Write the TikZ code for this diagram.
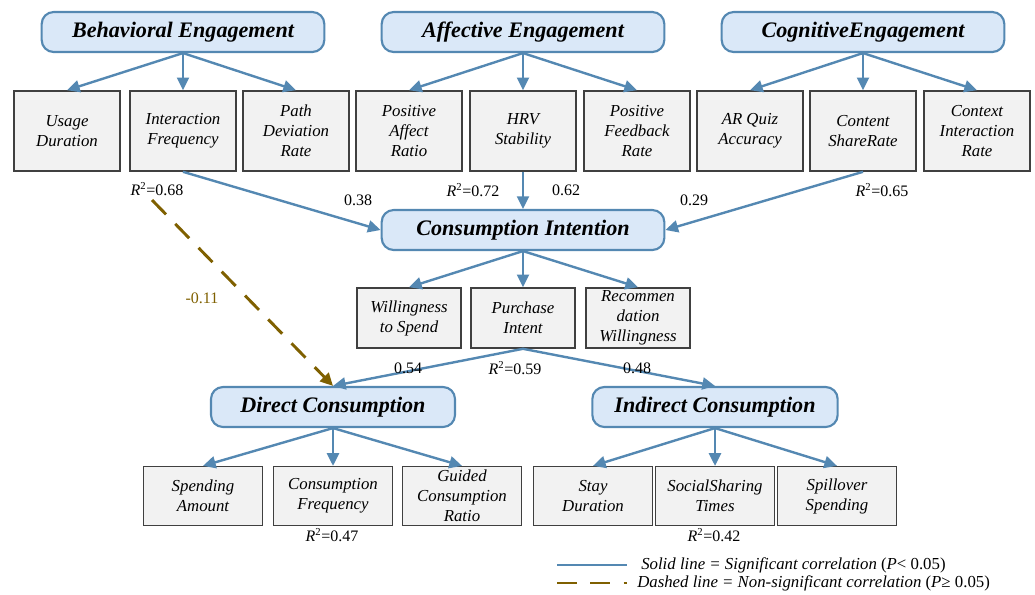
\documentclass[tikz,border=0pt]{standalone}
\usepackage{fontspec}
\setmainfont{Liberation Serif}
\usetikzlibrary{arrows.meta}
\definecolor{lineblue}{RGB}{84,136,178}
\definecolor{headfill}{RGB}{218,232,248}
\definecolor{boxfill}{RGB}{242,242,242}
\definecolor{boxline}{RGB}{64,64,64}
\definecolor{nsbrown}{RGB}{127,96,0}
\begin{document}
\begin{tikzpicture}[x=0.75pt,y=0.75pt,yscale=-1,xscale=1,
  latent/.style={draw=lineblue, line width=1.6pt, fill=headfill, rounded corners=9pt, minimum width=212pt, minimum height=30pt, inner sep=0pt, font=\fontsize{16.6}{19}\selectfont\bfseries\itshape},
  ind/.style={draw=boxline, line width=1.2pt, fill=boxfill, minimum width=79.5pt, minimum height=60pt, inner xsep=1pt, inner ysep=0.5pt, align=center, font=\fontsize{12.6}{15}\selectfont\itshape},
  sig/.style={draw=lineblue, line width=1.8pt},
  nsig/.style={draw=nsbrown, line width=2.2pt, dash pattern=on 15pt off 10pt},
  arr/.style={-{Triangle[length=9.5pt,width=9pt]}},
  coef/.style={font=\fontsize{12}{14}\selectfont, inner sep=0.75pt}
]
\useasboundingbox (0,0) rectangle (1035,594);

%Latent variables
\node [latent] (be) at (183,32) {Behavioral Engagement};
\node [latent] (ae) at (523,32) {Affective Engagement};
\node [latent] (ce) at (863,32) {CognitiveEngagement};
\node [latent] (ci) at (523,230) {Consumption Intention};
\node [latent, minimum width=183pt] (dc) at (333,407) {Direct Consumption};
\node [latent, minimum width=184pt] (ic) at (715,407) {Indirect Consumption};

%Indicators of engagement
\node [ind] (ud) at (67,131) {Usage\\Duration};
\node [ind] (ifq) at (183,131) {Interaction\\Frequency};
\node [ind] (pdr) at (296,131) {Path\\Deviation\\Rate};
\node [ind] (par) at (409,131) {Positive\\Affect\\Ratio};
\node [ind] (hrv) at (523,131) {HRV\\Stability};
\node [ind] (pfr) at (637,131) {Positive\\Feedback\\Rate};
\node [ind] (arq) at (750,131) {AR Quiz\\Accuracy};
\node [ind] (csr) at (863,131) {Content\\ShareRate};
\node [ind] (cir) at (977,131) {Context\\Interaction\\Rate};

%Indicators of intention
\node [ind, minimum width=78pt, minimum height=45pt] (wts) at (409,318) {Willingness\\to Spend};
\node [ind, minimum width=78pt, minimum height=45pt] (pi) at (523,318) {Purchase\\Intent};
\node [ind, minimum width=78pt, minimum height=45pt] (rw) at (638,318) {Recommen\\dation\\Willingness};

%Indicators of consumption
\node [ind, minimum width=89pt, minimum height=44pt] (sa) at (203,496) {Spending\\Amount};
\node [ind, minimum width=89pt, minimum height=44pt] (cf) at (333,496) {Consumption\\Frequency};
\node [ind, minimum width=89pt, minimum height=44pt] (gcr) at (462,496) {Guided\\Consumption\\Ratio};
\node [ind, minimum width=89pt, minimum height=44pt] (sd) at (593,496) {Stay\\Duration};
\node [ind, minimum width=89pt, minimum height=44pt] (sst) at (715,496) {SocialSharing\\Times};
\node [ind, minimum width=89pt, minimum height=44pt] (ss) at (837,496) {Spillover\\Spending};

%Measurement arrows
\foreach \lv/\a/\b/\c in {be/ud/ifq/pdr, ae/par/hrv/pfr, ce/arq/csr/cir, ci/wts/pi/rw, dc/sa/cf/gcr, ic/sd/sst/ss} {
  \draw [sig, arr] (\lv.south) -- (\a.north);
  \draw [sig, arr] (\lv.south) -- (\b.north);
  \draw [sig, arr] (\lv.south) -- (\c.north);
}

%Structural paths
\draw [sig, arr] (ifq.south) -- (ci.west);
\draw [sig, arr] (hrv.south) -- (ci.north);
\draw [sig, arr] (csr.south) -- (ci.east);
\draw [sig, arr] (pi.south) -- (dc.north);
\draw [sig, arr] (pi.south) -- (ic.north);
\coordinate (nsstart) at (152,200);
\draw [nsig, arr] (nsstart) -- (dc.north);

%Coefficients
\node [coef] (r68) at (157,189) {\textit{R}\textsuperscript{2}=0.68};
\node [coef] (b38) at (358,200) {0.38};
\node [coef] (r72) at (473,190) {\textit{R}\textsuperscript{2}=0.72};
\node [coef] (b62) at (566,190) {0.62};
\node [coef] (b29) at (694,200) {0.29};
\node [coef] (r65) at (882,190) {\textit{R}\textsuperscript{2}=0.65};
\node [coef, text=nsbrown] (b11) at (202,298) {-0.11};
\node [coef] (b54) at (408,368) {0.54};
\node [coef] (r59) at (515,368) {\textit{R}\textsuperscript{2}=0.59};
\node [coef] (b48) at (637,368) {0.48};
\node [coef] (r47) at (332,535) {\textit{R}\textsuperscript{2}=0.47};
\node [coef] (r42) at (714,535) {\textit{R}\textsuperscript{2}=0.42};

%Legend
\coordinate (sol1) at (557,565);
\coordinate (sol2) at (627,565);
\coordinate (das1) at (557,583);
\coordinate (das2) at (627,583);
\draw [sig] (sol1) -- (sol2);
\draw [nsig, line width=2pt] (das1) -- (das2);
\node [coef, anchor=west, font=\fontsize{12.6}{14}\selectfont] (legsol) at (640,565) {\textit{Solid line = Significant correlation} (\textit{P}< 0.05)};
\node [coef, anchor=west, font=\fontsize{12.6}{14}\selectfont] (legdas) at (636,583) {\textit{Dashed line = Non-significant correlation} (\textit{P}≥ 0.05)};
\end{tikzpicture}
\end{document}
